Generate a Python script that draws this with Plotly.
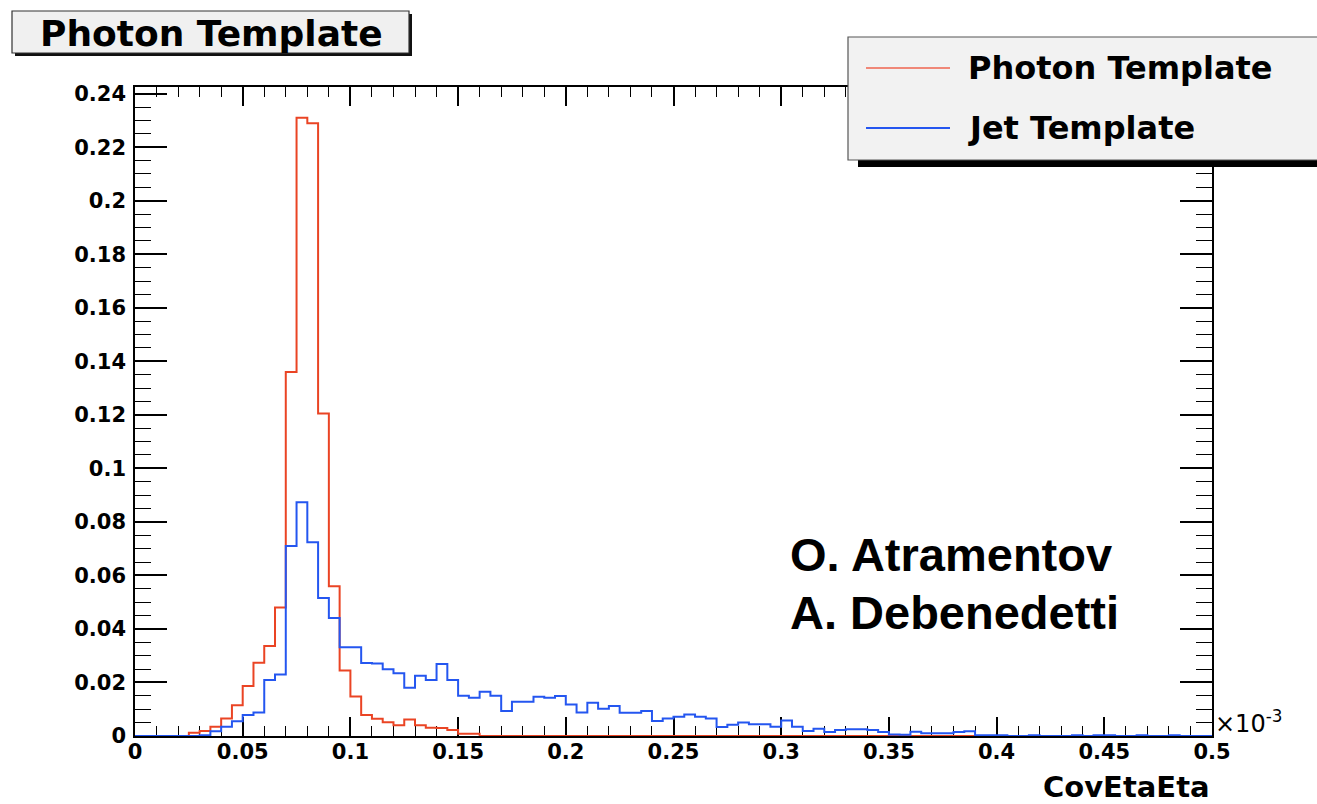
import plotly.graph_objects as go

# ---------------- data ----------------
bin_width = 0.005
n_bins = 100
bin_edges = [round(i * bin_width, 4) for i in range(n_bins + 1)]

photon_template = [
    0, 0, 0, 0, 0, 0.0012, 0.0019, 0.0035, 0.0065, 0.0115,
    0.0187, 0.0274, 0.0336, 0.048, 0.136, 0.231, 0.229, 0.1205, 0.056, 0.0245,
    0.0148, 0.0078, 0.0064, 0.0051, 0.0040, 0.0062, 0.0040, 0.0031, 0.0030, 0.0022,
    0.0008, 0.0008, 0, 0, 0, 0, 0, 0, 0, 0,
    0, 0, 0, 0, 0, 0, 0, 0, 0, 0,
    0, 0, 0, 0, 0, 0, 0, 0, 0, 0,
    0, 0, 0, 0, 0, 0, 0, 0, 0, 0,
    0, 0, 0, 0, 0, 0, 0, 0, 0, 0,
    0, 0, 0, 0, 0, 0, 0, 0, 0, 0,
    0, 0, 0, 0, 0, 0, 0, 0, 0, 0,
]

jet_template = [
    0, 0, 0, 0, 0, 0, 0.0003, 0.0018, 0.0035, 0.0055,
    0.0078, 0.0088, 0.0209, 0.023, 0.071, 0.0873, 0.0724, 0.0516, 0.0441, 0.0332,
    0.0332, 0.0273, 0.0271, 0.0249, 0.0234, 0.018, 0.0225, 0.0209, 0.0269, 0.0209,
    0.015, 0.0143, 0.0165, 0.015, 0.0093, 0.0128, 0.0128, 0.0147, 0.0143, 0.0149,
    0.0118, 0.0088, 0.0124, 0.0102, 0.0112, 0.0087, 0.0087, 0.0093, 0.0056, 0.0065,
    0.0072, 0.008, 0.0072, 0.0065, 0.0034, 0.0042, 0.005, 0.0044, 0.0044, 0.0035,
    0.0058, 0.0035, 0.0019, 0.0027, 0.0015, 0.0022, 0.0025, 0.0025, 0.0022, 0.0015,
    0.0006, 0.0005, 0.0016, 0.0010, 0.0010, 0.0010, 0.0015, 0.0018, 0.0003, 0.0003,
    0.0003, 0, 0, 0.0003, 0, 0, 0, 0.0003, 0, 0.0003,
    0.0003, 0, 0, 0.0003, 0, 0, 0.0003, 0, 0, 0,
]

series_names = ["Photon Template", "Jet Template"]
series_colors = ["#ea4424", "#2456f0"]
legend_colors = ["#f08878", "#2456f0"]

x_title = "CovEtaEta"
plot_title = "Photon Template"
authors = ["O. Atramentov", "A. Debenedetti"]

# ---------------- geometry helpers ----------------
W, H = 1317, 804
L, R, T, B = 135, 1212, 87, 736


def px(x):
    return (x - L) / (R - L)


def py(y):
    return (B - y) / (B - T)


BOLD = dict(family="DejaVu Sans", weight="bold", color="black")

fig = go.Figure()

for vals, name, col in zip([photon_template, jet_template], series_names, series_colors):
    fig.add_trace(go.Scatter(
        x=bin_edges,
        y=vals + [vals[-1]],
        mode="lines",
        line=dict(shape="hv", color=col, width=2),
        name=name,
        showlegend=False,
        hoverinfo="skip",
    ))

fig.update_layout(
    width=W, height=H,
    margin=dict(l=L, r=W - R, t=T, b=H - B, pad=0),
    paper_bgcolor="white",
    plot_bgcolor="white",
    showlegend=False,
)

fig.update_xaxes(
    range=[0, 0.5], tickmode="linear", tick0=0, dtick=0.05,
    ticks="inside", ticklen=19, tickwidth=1.5, tickcolor="black",
    minor=dict(dtick=0.01, tick0=0, ticks="inside", ticklen=10, tickwidth=1.3, tickcolor="black", showgrid=False),
    showline=True, linecolor="black", linewidth=1.5, mirror="allticks",
    showgrid=False, zeroline=False, layer="below traces",
    tickfont=dict(size=21, **BOLD), ticklabelstandoff=-4,
)
fig.update_yaxes(
    range=[0, 0.2425], tickmode="linear", tick0=0, dtick=0.02,
    ticks="inside", ticklen=32, tickwidth=1.5, tickcolor="black",
    minor=dict(dtick=0.005, tick0=0, ticks="inside", ticklen=16, tickwidth=1.3, tickcolor="black", showgrid=False),
    showline=True, linecolor="black", linewidth=1.5, mirror="allticks",
    showgrid=False, zeroline=False, layer="below traces",
    tickfont=dict(size=21, **BOLD), ticklabelstandoff=3,
)

shapes = []
annotations = []

# title box with shadow
shapes.append(dict(type="rect", xref="paper", yref="paper",
                   x0=px(15), x1=px(412), y0=py(14), y1=py(56),
                   fillcolor="#111111", line=dict(width=0), layer="above"))
shapes.append(dict(type="rect", xref="paper", yref="paper",
                   x0=px(12), x1=px(409), y0=py(11), y1=py(53),
                   fillcolor="#f0f0f0", line=dict(color="#333333", width=1.2), layer="above"))
annotations.append(dict(xref="paper", yref="paper", x=px(211), y=py(33),
                        text=plot_title, showarrow=False, xanchor="center", yanchor="middle",
                        font=dict(size=36, **BOLD)))

# legend box with shadow
shapes.append(dict(type="rect", xref="paper", yref="paper",
                   x0=px(858), x1=px(1340), y0=py(44), y1=py(167),
                   fillcolor="#000000", line=dict(width=0), layer="above"))
shapes.append(dict(type="rect", xref="paper", yref="paper",
                   x0=px(848), x1=px(1340), y0=py(37), y1=py(160),
                   fillcolor="#f2f2f2", line=dict(color="#555555", width=1.2), layer="above"))
for i, (name, col) in enumerate(zip(series_names, legend_colors)):
    yc = 68 + 60 * i
    shapes.append(dict(type="line", xref="paper", yref="paper",
                       x0=px(866), x1=px(950), y0=py(yc), y1=py(yc),
                       line=dict(color=col, width=1.8), layer="above"))
    annotations.append(dict(xref="paper", yref="paper", x=px(966), y=py(yc),
                            text=name, showarrow=False, xanchor="left", yanchor="middle",
                            font=dict(size=32, **BOLD)))

# authors
for i, a in enumerate(authors):
    annotations.append(dict(xref="paper", yref="paper", x=px(788), y=py(554 + 58 * i),
                            text=a, showarrow=False, xanchor="left", yanchor="middle",
                            font=dict(size=47, family="Liberation Sans", weight="bold", color="black")))

# x title and exponent
annotations.append(dict(xref="paper", yref="paper", x=px(1212), y=py(787),
                        text=x_title, showarrow=False, xanchor="right", yanchor="middle",
                        font=dict(size=29, **BOLD)))
annotations.append(dict(xref="paper", yref="paper", x=px(1213), y=py(722),
                        text="×10<sup>-3</sup>", showarrow=False, xanchor="left", yanchor="middle",
                        font=dict(size=24, family="DejaVu Sans", color="black")))

fig.update_layout(shapes=shapes, annotations=annotations)

fig.write_html("out.html")
